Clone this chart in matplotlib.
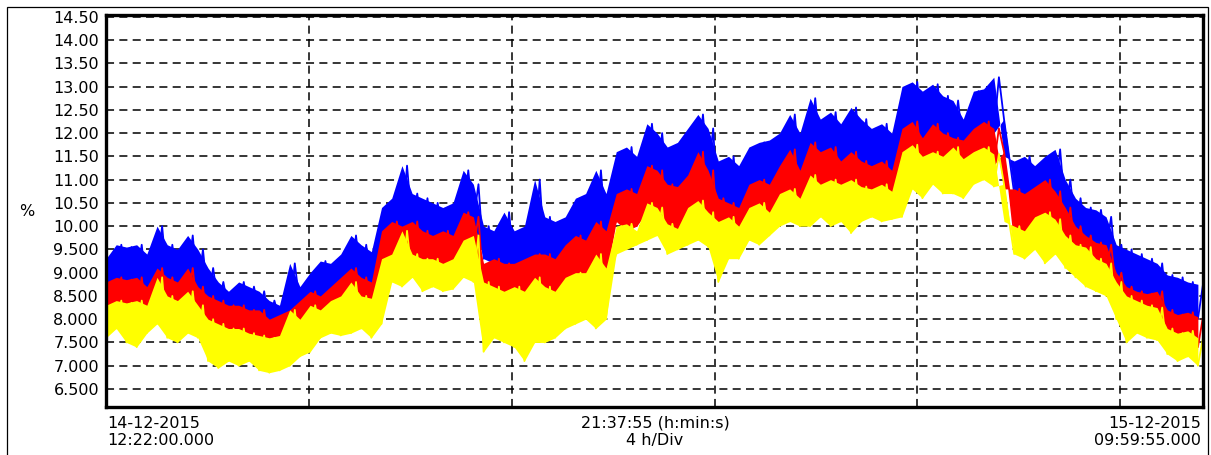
import matplotlib
matplotlib.use('Agg')
import matplotlib.pyplot as plt
from matplotlib.patches import Rectangle
import numpy as np

# hours after 14-12-2015 12:22:00, one min/max pair per ~12 minute bin
span_h = 21 + 37 / 60 + 55 / 3600

blue_hi = [9.3, 9.6, 9.55, 9.6, 9.4, 10.0, 9.6, 9.5, 9.8, 9.5,
           9.1, 8.8, 8.6, 8.8, 8.7, 8.6, 8.4, 8.3, 9.2, 8.7,
           9.0, 9.25, 9.2, 9.4, 9.8, 9.6, 9.45, 10.4, 10.6, 11.3,
           10.7, 10.6, 10.5, 10.4, 10.5, 11.2, 10.9, 10.0, 9.9, 10.3,
           9.9, 10.0, 11.0, 10.2, 10.1, 10.2, 10.6, 10.7, 11.2, 10.7,
           11.6, 11.7, 11.5, 12.2, 12.0, 11.7, 11.8, 12.1, 12.4, 12.1,
           11.4, 11.5, 11.3, 11.7, 11.8, 11.85, 12.0, 12.4, 12.0, 12.75,
           12.3, 12.45, 12.2, 12.55, 12.3, 12.1, 12.2, 12.0, 13.0, 13.1,
           12.9, 13.05, 12.8, 12.7, 12.3, 12.9, 12.95, 13.2, 11.5, 11.4,
           11.5, 11.3, 11.5, 11.65, 11.0, 10.6, 10.4, 10.35, 10.2, 9.6,
           9.5, 9.4, 9.3, 9.2, 8.95, 8.9, 8.8, 8.75]
blue_lo = [8.7, 8.8, 8.75, 8.8, 8.6, 9.0, 8.8, 8.7, 8.9, 8.6,
           8.4, 8.3, 8.2, 8.2, 8.1, 8.1, 7.9, 8.0, 8.1, 8.3,
           8.5, 8.4, 8.6, 8.8, 8.9, 8.8, 8.7, 9.0, 10.0, 9.9,
           10.0, 9.8, 9.7, 9.8, 9.7, 10.1, 10.1, 9.3, 9.2, 9.1,
           9.1, 9.2, 9.3, 9.3, 9.2, 9.5, 9.7, 9.6, 9.9, 9.8,
           10.6, 10.7, 10.6, 11.1, 11.0, 10.8, 10.7, 11.0, 11.4, 11.1,
           10.1, 10.4, 10.3, 10.8, 10.9, 10.8, 11.2, 11.4, 11.1, 11.6,
           11.5, 11.6, 11.3, 11.5, 11.3, 11.2, 11.3, 11.1, 11.5, 12.1,
           11.8, 12.1, 11.9, 11.8, 11.7, 12.0, 12.1, 12.0, 12.3, 10.7,
           10.6, 10.75, 10.9, 10.7, 10.3, 9.9, 9.7, 9.55, 9.5, 8.9,
           8.6, 8.5, 8.45, 8.5, 8.1, 8.0, 8.1, 8.0]

red_hi = [8.8, 8.9, 8.85, 8.9, 8.7, 9.1, 8.9, 8.8, 9.1, 8.7,
          8.5, 8.4, 8.3, 8.3, 8.2, 8.2, 8.0, 8.1, 8.2, 8.4,
          8.6, 8.5, 8.7, 8.9, 9.1, 8.9, 8.8, 9.9, 10.1, 10.0,
          10.1, 9.9, 9.8, 9.9, 9.8, 10.3, 10.2, 9.2, 9.3, 9.2,
          9.2, 9.3, 9.4, 9.4, 9.3, 9.6, 9.8, 9.7, 10.1, 9.9,
          10.7, 10.8, 10.7, 11.3, 11.2, 10.9, 10.85, 11.1, 11.6, 11.2,
          10.6, 10.5, 10.4, 10.9, 11.0, 10.9, 11.3, 11.65, 11.2, 11.8,
          11.6, 11.7, 11.4, 11.6, 11.4, 11.3, 11.4, 11.2, 12.1, 12.25,
          11.9, 12.2, 12.0, 11.9, 11.85, 12.1, 12.25, 12.1, 10.8, 10.8,
          10.7, 10.85, 11.0, 10.75, 10.4, 10.0, 9.8, 9.65, 9.6, 9.0,
          8.7, 8.6, 8.55, 8.6, 8.2, 8.1, 8.15, 8.05]
red_lo = [8.1, 8.2, 8.15, 8.2, 8.1, 8.5, 8.3, 8.2, 8.4, 8.1,
          7.8, 7.7, 7.6, 7.6, 7.5, 7.45, 7.4, 7.45, 7.8, 7.8,
          8.1, 8.0, 8.2, 8.3, 8.5, 8.3, 8.25, 8.4, 9.2, 9.5,
          9.2, 9.1, 9.1, 9.0, 9.1, 9.5, 9.5, 8.6, 8.5, 8.4,
          8.5, 8.4, 8.6, 8.5, 8.4, 8.7, 8.8, 8.8, 9.1, 8.9,
          10.1, 9.9, 10.0, 10.3, 10.2, 9.85, 9.8, 10.2, 10.3, 10.1,
          9.6, 10.0, 9.8, 10.2, 10.3, 10.1, 10.5, 10.6, 10.4, 10.8,
          10.7, 10.8, 10.7, 10.8, 10.6, 10.6, 10.7, 10.5, 10.7, 11.5,
          11.3, 11.4, 11.3, 11.4, 11.2, 11.4, 11.5, 11.3, 11.6, 9.8,
          9.7, 10.0, 10.1, 9.9, 9.6, 9.4, 9.35, 9.1, 9.0, 8.6,
          8.3, 8.2, 8.1, 8.05, 7.6, 7.5, 7.55, 7.4]

yellow_hi = [8.3, 8.4, 8.35, 8.4, 8.3, 8.9, 8.5, 8.4, 8.6, 8.3,
             8.0, 7.9, 7.8, 7.8, 7.7, 7.65, 7.6, 7.65, 8.2, 8.0,
             8.3, 8.2, 8.4, 8.5, 8.8, 8.5, 8.45, 9.3, 9.4, 9.9,
             9.4, 9.3, 9.3, 9.2, 9.3, 9.7, 9.8, 8.8, 8.7, 8.6,
             8.7, 8.6, 8.9, 8.7, 8.6, 8.9, 9.0, 9.0, 9.4, 9.1,
             10.0, 10.05, 9.9, 10.5, 10.4, 10.05, 9.95, 10.4, 10.55, 10.3,
             10.1, 10.2, 10.0, 10.4, 10.5, 10.3, 10.7, 10.8, 10.6, 11.1,
             10.9, 11.0, 10.9, 11.0, 10.85, 10.8, 10.9, 10.75, 11.6, 11.75,
             11.5, 11.6, 11.5, 11.7, 11.45, 11.6, 11.7, 11.55, 10.1, 10.0,
             9.9, 10.2, 10.3, 10.15, 9.8, 9.6, 9.55, 9.3, 9.2, 8.8,
             8.5, 8.4, 8.3, 8.25, 7.8, 7.7, 7.75, 7.6]
yellow_lo = [7.6, 7.8, 7.5, 7.4, 7.7, 7.9, 7.6, 7.5, 7.7, 7.6,
             7.1, 6.95, 7.1, 7.0, 7.1, 6.9, 6.85, 6.9, 7.0, 7.2,
             7.3, 7.6, 7.7, 7.65, 7.7, 7.8, 7.6, 7.9, 8.8, 8.7,
             8.9, 8.6, 8.7, 8.6, 8.65, 8.9, 8.8, 7.3, 7.6, 7.5,
             7.4, 7.1, 7.5, 7.5, 7.6, 7.8, 7.9, 8.0, 7.8, 8.0,
             9.4, 9.5, 9.6, 9.7, 9.8, 9.4, 9.5, 9.6, 9.7, 9.55,
             8.8, 9.3, 9.3, 9.7, 9.6, 9.8, 10.0, 10.1, 10.0, 10.0,
             10.2, 10.0, 10.1, 9.85, 10.1, 10.2, 10.1, 10.15, 10.2, 10.8,
             10.6, 10.9, 10.7, 10.7, 10.6, 10.9, 11.0, 10.85, 10.9, 9.4,
             9.3, 9.5, 9.2, 9.4, 9.1, 8.9, 8.7, 8.6, 8.5, 8.0,
             7.5, 7.7, 7.6, 7.55, 7.25, 7.1, 7.2, 7.0]

start_txt = ['14-12-2015', '12:22:00.000']
mid_txt = ['21:37:55 (h:min:s)', '4 h/Div']
end_txt = ['15-12-2015', '09:59:55.000']

plt.rcParams['font.family'] = ['DejaVu Sans']
plt.rcParams['lines.scale_dashes'] = False

W, H = 1211, 455
fig = plt.figure(figsize=(W / 100, H / 100), dpi=100)
ax = fig.add_axes([106 / W, 48 / H, 1097 / W, 392 / H])

n = len(blue_hi)
bin_h = span_h / (n - 0.5)
t = np.arange(n) * bin_h
t_zig = np.column_stack([t, t + bin_h / 2]).ravel()

# blue first, red over it, yellow on top
for lo, hi, c in [(blue_lo, blue_hi, '#0000ff'),
                  (red_lo, red_hi, '#ff0000'),
                  (yellow_lo, yellow_hi, '#ffff00')]:
    ax.fill_between(t, lo, hi, color=c, lw=0, zorder=2)
    ax.plot(t_zig, np.column_stack([lo, hi]).ravel(), color=c, lw=1.3, zorder=2)

ax.set_xlim(0, span_h)
ax.set_ylim(6.113, 14.537)
yt = np.arange(6.5, 14.51, 0.5)
ax.set_yticks(yt)
ax.set_yticklabels([f'{v:.2f}' if v >= 10 else f'{v:.3f}' for v in yt])
ax.set_xticks(np.arange(4, span_h, 4))
ax.set_xticklabels([])
ax.tick_params(length=0, labelsize=11.5, pad=5, colors='black')
ax.set_axisbelow(True)
ax.grid(True, color='black', lw=1.1, linestyle=(0, (5.8, 3.8)))
for s in ax.spines.values():
    s.set_linewidth(2.4)

fs = 11.5
fig.text(27 / W, 1 - 211 / H, '%', ha='center', va='center', fontsize=fs)
for i, y in enumerate([428, 445]):
    fig.text(107 / W, 1 - y / H, start_txt[i], ha='left', va='baseline', fontsize=fs)
    fig.text(655 / W, 1 - y / H, mid_txt[i], ha='center', va='baseline', fontsize=fs)
    fig.text(1201 / W, 1 - y / H, end_txt[i], ha='right', va='baseline', fontsize=fs)

fig.patches.append(Rectangle((7 / W, -0.05), 1201 / W, 1.05 - 7 / H, fill=False,
                             lw=0.9, edgecolor='black', transform=fig.transFigure))

fig.savefig('out.png', dpi=100)
